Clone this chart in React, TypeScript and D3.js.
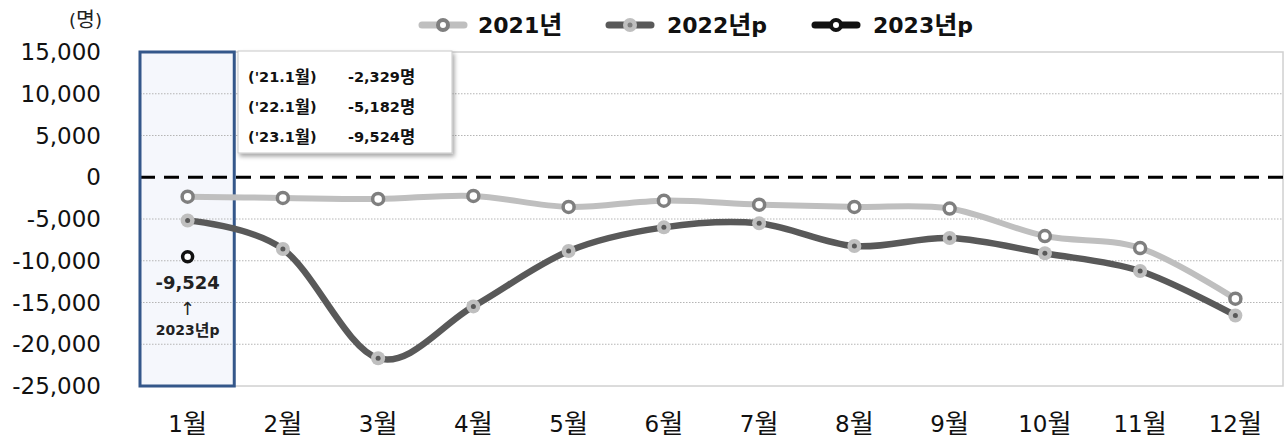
import React from "react";
import * as d3 from "d3";

const months = ["1월", "2월", "3월", "4월", "5월", "6월", "7월", "8월", "9월", "10월", "11월", "12월"];
const values2021 = [-2329, -2480, -2600, -2240, -3560, -2800, -3280, -3560, -3750, -7040, -8480, -14550];
const values2022 = [-5182, -8600, -21670, -15470, -8840, -6000, -5520, -8240, -7280, -9110, -11230, -16550];
const values2023 = [-9524];
const yTicks = [15000, 10000, 5000, 0, -5000, -10000, -15000, -20000, -25000];
const noteLabels = ["('21.1월)", "('22.1월)", "('23.1월)"];
const legendLabels = ["2021년", "2022년p", "2023년p"];

const W = 1285;
const H = 443;
const FONT = "'DejaVu Sans', 'Noto Sans CJK KR', sans-serif";
const HANGUL_SCALE = 1.14;

const fmt = (v: number) => d3.format(",")(v).replace("\u2212", "-");

// render a string with Hangul runs slightly enlarged (to match the reference font's proportions)
function K({ text, size }: { text: string; size: number }) {
  const parts = text.split(/([\uAC00-\uD7A3]+)/).filter((p) => p.length > 0);
  return (
    <>
      {parts.map((p, i) =>
        /[\uAC00-\uD7A3]/.test(p) ? (
          <tspan key={i} fontSize={size * HANGUL_SCALE}>
            {p}
          </tspan>
        ) : (
          <tspan key={i} fontSize={size}>
            {p}
          </tspan>
        )
      )}
    </>
  );
}

export default function App() {
  const x = d3.scaleBand<string>().domain(months).range([140, 1283]);
  const y = d3.scaleLinear().domain([-25000, 15000]).range([386, 52]);
  const cx = (i: number) => (x(months[i]) as number) + x.bandwidth() / 2;
  const line = d3
    .line<number>()
    .x((_, i) => cx(i))
    .y((d) => y(d))
    .curve(d3.curveCatmullRom.alpha(0));
  const firsts = [values2021[0], values2022[0], values2023[0]];

  const legendX = [422, 609, 815];
  const legendTextX = [478, 667, 873];
  const LY = 25;

  return (
    <svg
      width={W}
      height={H}
      style={{ position: "absolute", left: 0, top: 0, background: "#fff" }}
      fontFamily={FONT}
    >
      <defs>
        <filter id="shadow" x="-10%" y="-10%" width="130%" height="140%">
          <feDropShadow dx="2" dy="3" stdDeviation="2" floodColor="#000" floodOpacity="0.35" />
        </filter>
      </defs>

      {/* highlight box fill */}
      <rect x={x(months[0])} y={y(15000)} width={x.bandwidth() - 1} height={y(-25000) - y(15000)} fill="#f5f7fc" />

      {/* gridlines */}
      {yTicks
        .filter((t) => t !== 0 && t !== -25000 && t !== 15000)
        .map((t) => (
          <line key={t} x1={140} x2={1283} y1={y(t)} y2={y(t)} stroke="#b5b5b5" strokeWidth={1} strokeDasharray="1.5,1.5" />
        ))}
      {/* plot border */}
      <rect x={140} y={y(15000)} width={1143} height={y(-25000) - y(15000)} fill="none" stroke="#d0d0d0" strokeWidth={1.5} />
      <line x1={140} x2={140} y1={y(15000)} y2={y(-25000)} stroke="#a0a0a0" strokeWidth={1.5} />

      {/* zero line */}
      <line x1={140} x2={1283} y1={y(0)} y2={y(0)} stroke="#000" strokeWidth={3} strokeDasharray="15,9" />

      {/* highlight box border */}
      <rect
        x={x(months[0])}
        y={y(15000)}
        width={x.bandwidth() - 1}
        height={y(-25000) - y(15000)}
        fill="none"
        stroke="#34578a"
        strokeWidth={3}
      />

      {/* annotation box */}
      <rect x={238} y={51} width={214} height={102} fill="#fff" stroke="#c8c8c8" strokeWidth={1} filter="url(#shadow)" />
      {noteLabels.map((lab, i) => (
        <g key={lab} fontWeight="bold" fill="#111">
          <text x={248} y={77 + i * 30} dominantBaseline="central">
            <K text={lab} size={14.5} />
          </text>
          <text x={348} y={77 + i * 30} dominantBaseline="central">
            <K text={fmt(firsts[i]) + "명"} size={14.5} />
          </text>
        </g>
      ))}

      {/* y axis labels */}
      <text x={102} y={20} textAnchor="end" fill="#222" dominantBaseline="central">
        <K text="(명)" size={18} />
      </text>
      {yTicks.map((t) => (
        <text key={t} x={101} y={y(t)} textAnchor="end" dominantBaseline="central" fontSize={23} fill="#111">
          {fmt(t)}
        </text>
      ))}

      {/* x labels */}
      {months.map((m, i) => (
        <text key={m} x={cx(i)} y={424} textAnchor="middle" dominantBaseline="central" fill="#111">
          <K text={m} size={23} />
        </text>
      ))}

      {/* 2021 line */}
      <path d={line(values2021) || ""} fill="none" stroke="#bfbfbf" strokeWidth={6} />
      {values2021.map((v, i) => (
        <circle key={i} cx={cx(i)} cy={y(v)} r={5.5} fill="#fff" stroke="#7f7f7f" strokeWidth={3.5} />
      ))}

      {/* 2022 line */}
      <path d={line(values2022) || ""} fill="none" stroke="#595959" strokeWidth={6.5} />
      {values2022.map((v, i) => (
        <g key={i}>
          <circle cx={cx(i)} cy={y(v)} r={7} fill="#bfbfbf" />
          <circle cx={cx(i)} cy={y(v)} r={2.5} fill="#595959" />
        </g>
      ))}

      {/* 2023 point */}
      {values2023.map((v, i) => (
        <g key={i}>
          <circle cx={cx(i)} cy={y(v)} r={5} fill="#fff" stroke="#111" strokeWidth={3.5} />
          <text x={cx(i)} y={y(v) + 26} textAnchor="middle" dominantBaseline="central" fontSize={18} fontWeight="bold" fill="#222">
            {fmt(v)}
          </text>
          <text x={cx(i)} y={y(v) + 52} textAnchor="middle" dominantBaseline="central" fontSize={18} fill="#222">
            ↑
          </text>
          <text x={cx(i)} y={y(v) + 73} textAnchor="middle" dominantBaseline="central" fontWeight="bold" fill="#222">
            <K text={legendLabels[2]} size={14} />
          </text>
        </g>
      ))}

      {/* legend */}
      <g fontWeight="bold" fill="#111">
        {/* 2021 */}
        <line x1={legendX[0]} x2={legendX[0] + 42} y1={LY} y2={LY} stroke="#bfbfbf" strokeWidth={7} strokeLinecap="round" />
        <circle cx={legendX[0] + 21} cy={LY} r={5} fill="#fff" stroke="#7f7f7f" strokeWidth={4} />
        <text x={legendTextX[0]} y={LY} dominantBaseline="central">
          <K text={legendLabels[0]} size={22} />
        </text>
        {/* 2022 */}
        <line x1={legendX[1]} x2={legendX[1] + 42} y1={LY} y2={LY} stroke="#595959" strokeWidth={7} strokeLinecap="round" />
        <circle cx={legendX[1] + 21} cy={LY} r={7} fill="#bfbfbf" />
        <circle cx={legendX[1] + 21} cy={LY} r={2.5} fill="#7f7f7f" />
        <text x={legendTextX[1]} y={LY} dominantBaseline="central">
          <K text={legendLabels[1]} size={22} />
        </text>
        {/* 2023 */}
        <line x1={legendX[2]} x2={legendX[2] + 42} y1={LY} y2={LY} stroke="#111" strokeWidth={7} strokeLinecap="round" />
        <circle cx={legendX[2] + 21} cy={LY} r={5} fill="#fff" stroke="#111" strokeWidth={4} />
        <text x={legendTextX[2]} y={LY} dominantBaseline="central">
          <K text={legendLabels[2]} size={22} />
        </text>
      </g>
    </svg>
  );
}
